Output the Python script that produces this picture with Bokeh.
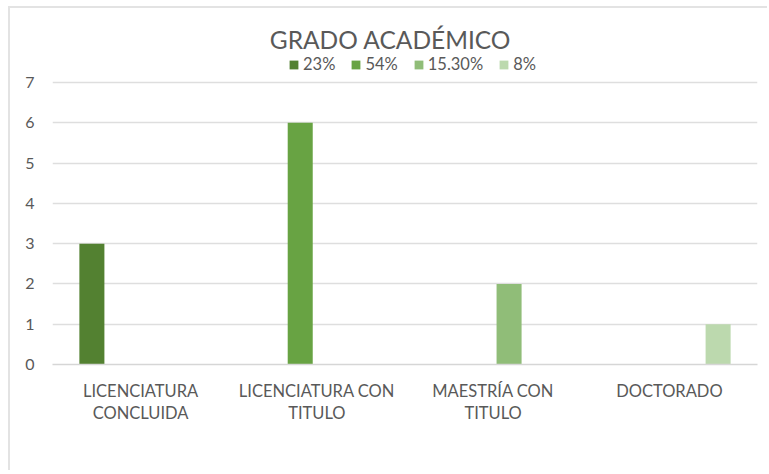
from bokeh.plotting import figure
from bokeh.models import FactorRange, Range1d, FixedTicker, Legend, LegendItem, ColumnDataSource, Label
from bokeh.transform import dodge
from bokeh.embed import file_html
from bokeh.resources import INLINE

categories = ["LICENCIATURA\nCONCLUIDA", "LICENCIATURA CON\nTITULO", "MAESTRÍA CON\nTITULO", "DOCTORADO"]
series_names = ["23%", "54%", "15.30%", "8%"]
s_23 = [3, 0, 0, 0]
s_54 = [0, 6, 0, 0]
s_1530 = [0, 0, 2, 0]
s_8 = [0, 0, 0, 1]
y_ticks = [0, 1, 2, 3, 4, 5, 6, 7]
colors = ["#538131", "#68a343", "#90bd78", "#bcd9ae"]
title_text = "GRADO ACADÉMICO"

FONT = "Lato"
GRAY = "#595959"

src = ColumnDataSource(dict(cat=categories, s0=s_23, s1=s_54, s2=s_1530, s3=s_8))

# frame spans the full canvas height above the axis; y-range top leaves room for title and legend
p = figure(width=759, height=464, output_backend="svg", toolbar_location=None,
           x_range=FactorRange(*categories, range_padding=0, factor_padding=0),
           y_range=Range1d(0, 8.84),
           min_border_left=42, min_border_right=12, min_border_top=0, min_border_bottom=108)
p.title.visible = False
p.styles = {"margin-left": "8px", "margin-top": "6px",
            "border-left": "2px solid #e3e3e3", "border-top": "2px solid #e3e3e3"}
p.outline_line_color = None
p.background_fill_color = "white"
p.border_fill_color = "white"

offsets = [-0.2765, -0.0945, 0.0905, 0.2765]
bar_w = 0.142
renderers = []
for i, (off, col) in enumerate(zip(offsets, colors)):
    r = p.vbar(x=dodge("cat", off, range=p.x_range), top="s%d" % i, width=bar_w, bottom=0,
               source=src, fill_color=col, line_color=None)
    renderers.append(r)

title = Label(x=338, y=325, x_units="screen", y_units="screen", text=title_text,
              text_font=FONT, text_font_size="24.5px", text_color=GRAY,
              text_align="center", text_baseline="middle")
p.add_layout(title)

legend = Legend(items=[LegendItem(label=n, renderers=[r]) for n, r in zip(series_names, renderers)],
                orientation="horizontal", location=(236, 290))
legend.border_line_color = None
legend.background_fill_alpha = 0
legend.padding = 0
legend.margin = 0
legend.spacing = 15
legend.glyph_width = 11
legend.glyph_height = 11
legend.label_standoff = 4
legend.label_text_font = FONT
legend.label_text_font_size = "16.5px"
legend.label_text_color = GRAY
legend.label_height = 16
p.add_layout(legend, "center")

p.ygrid.grid_line_color = "#dedede"
p.ygrid.grid_line_width = 1.5
p.xgrid.grid_line_color = None

p.yaxis.ticker = FixedTicker(ticks=y_ticks)
p.yaxis.axis_line_color = None
p.yaxis.major_tick_line_color = None
p.yaxis.minor_tick_line_color = None
p.yaxis.major_label_standoff = 12
p.yaxis.major_label_text_font = FONT
p.yaxis.major_label_text_font_size = "16px"
p.yaxis.major_label_text_color = GRAY

p.xaxis.axis_line_color = "#d6d6d6"
p.xaxis.axis_line_width = 1.5
p.xaxis.major_tick_line_color = None
p.xaxis.minor_tick_line_color = None
p.xaxis.major_label_standoff = 10
p.xaxis.major_label_text_font = FONT
p.xaxis.major_label_text_font_size = "16.5px"
p.xaxis.major_label_text_color = GRAY
p.xaxis.major_label_text_line_height = 1.12

open("out.html", "w").write(file_html(p, INLINE))
